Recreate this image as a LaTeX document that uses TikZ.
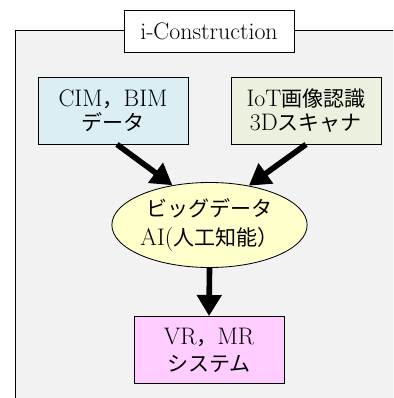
\documentclass[tikz,border=0pt]{standalone}
\usepackage{fontspec}
\newfontfamily\jp[Scale=0.88]{Noto Sans CJK JP}
\usetikzlibrary{shapes.geometric, arrows.meta}

\definecolor{panelgray}{HTML}{F2F2F2}
\definecolor{cimblue}{HTML}{DAEEF3}
\definecolor{iotgreen}{HTML}{EBF1DE}
\definecolor{aiyellow}{HTML}{FFFFCC}
\definecolor{vrpink}{HTML}{FFCCFF}

\tikzset{
  databox/.style={draw, line width=0.6pt, align=center, inner sep=0pt,
    minimum width=3.75cm, minimum height=1.675cm},
  bigarrow/.style={line width=4pt, -{Triangle[length=15pt, width=17pt]}}
}

\begin{document}
\begin{tikzpicture}[x=0.025cm, y=-0.025cm,
    font=\fontsize{17}{17}\selectfont]
  \useasboundingbox (0,0) rectangle (393,398);

  % ===== marco i-Construction =====
  \fill[panelgray] (15,30) rectangle (393,398);
  \draw[line width=0.6pt] (393,30) -- (15,30) -- (15,398);
  \node[draw, fill=white, line width=0.6pt, inner sep=0pt,
        minimum width=4.25cm, minimum height=1.05cm] (title) at (209,31) {i-Construction};

  % ===== entradas =====
  \node[databox, fill=cimblue] (cim) at (113,110.5) {CIM{\jp ，}BIM\\{\jp データ}};
  \node[databox, fill=iotgreen] (iot) at (306,110.5) {IoT{\jp 画像認識}\\3D{\jp スキャナ}};

  % ===== nucleo =====
  \node[ellipse, draw, fill=aiyellow, line width=0.6pt, align=center, inner sep=0pt,
        minimum width=4.625cm, minimum height=2.125cm] (ai) at (209.5,225)
        {{\jp ビッグデータ}\\[3.6pt]AI({\jp 人工知能）}};

  % ===== salida =====
  \node[databox, fill=vrpink] (vr) at (209,350) {VR{\jp ，}MR\\[2pt]{\jp システム}};

  % Flechas
  \draw[bigarrow] ([xshift=0.1cm]cim.south) -- (ai.133);
  \draw[bigarrow] (iot.south) -- (ai.45);
  \draw[bigarrow] (ai.south) -- (vr.north);
\end{tikzpicture}
\end{document}
